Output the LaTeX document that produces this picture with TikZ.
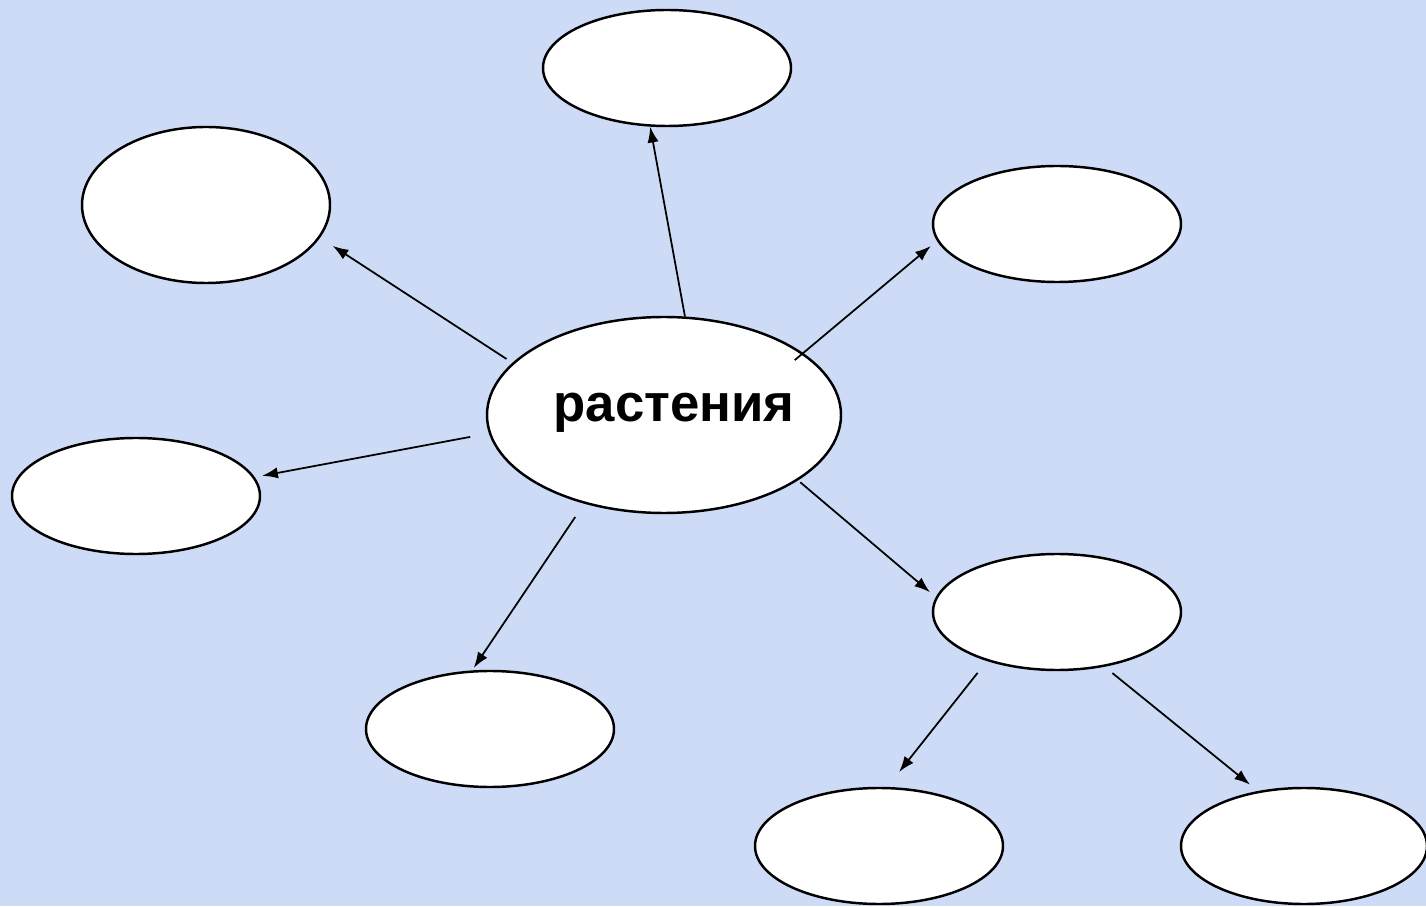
\documentclass[tikz,border=0pt]{standalone}
\usepackage{fontspec}
\setmainfont{Liberation Sans}
\usetikzlibrary{shapes.geometric,arrows.meta}
\definecolor{bgblue}{RGB}{206,219,246}
\tikzset{
  bubble/.style={ellipse,draw,fill=white,line width=0.7pt,
    minimum width=2.48cm,minimum height=1.16cm,inner sep=0pt},
  >={Latex[length=4.5pt,width=3.2pt]},
}

\begin{document}
\begin{tikzpicture}[line width=0.5pt]
  \fill[bgblue] (0,0) rectangle (14.26,9.06);
  \useasboundingbox (0,0) rectangle (14.26,9.06);
  % centre and the empty bubbles round it
  \node[bubble,minimum width=3.54cm,minimum height=1.96cm] (plants) at (6.64,4.91) {};
  \node[font=\bfseries\fontsize{15}{18}\selectfont] (plantsname) at (6.74,4.93) {растения};
  \node[bubble]                       (top)   at (6.67,8.38)  {};
  \node[bubble,minimum height=1.56cm] (uleft) at (2.06,7.01)  {};
  \node[bubble]                       (uright) at (10.57,6.82) {};
  \node[bubble]                       (left)  at (1.36,4.10)  {};
  \node[bubble]                       (down)  at (4.90,1.77)  {};
  \node[bubble]                       (mid)   at (10.57,2.94) {};
  \node[bubble]                       (leafa) at (8.79,0.60)  {};
  \node[bubble,minimum width=2.46cm]  (leafb) at (13.04,0.60) {};
  \path[->]
    (plants.78.6)  edge (top.254.3)
    (plants.161.3) edge[shorten <=0.7mm,shorten >=1.5mm] (uleft.-16.3)
    (plants.24.2)  edge[shorten <=-1.1mm,shorten >=0.8mm] (uright.188.1)
    (plants.186.5) edge[shorten <=1.9mm,shorten >=0.75mm] (left.9.6)
    (plants.228.7) edge[shorten <=1.6mm,shorten >=0.3mm] (down.107)
    (plants.-26.8) edge[shorten <=0.3mm,shorten >=0.75mm] (mid.173.3)
    (mid.215.6)    edge[shorten <=1.5mm,shorten >=1.9mm] (leafa.82.1)
    (mid.-49.8)    edge[shorten <=1mm,shorten >=1mm] (leafb.130.8);
\end{tikzpicture}
\end{document}
